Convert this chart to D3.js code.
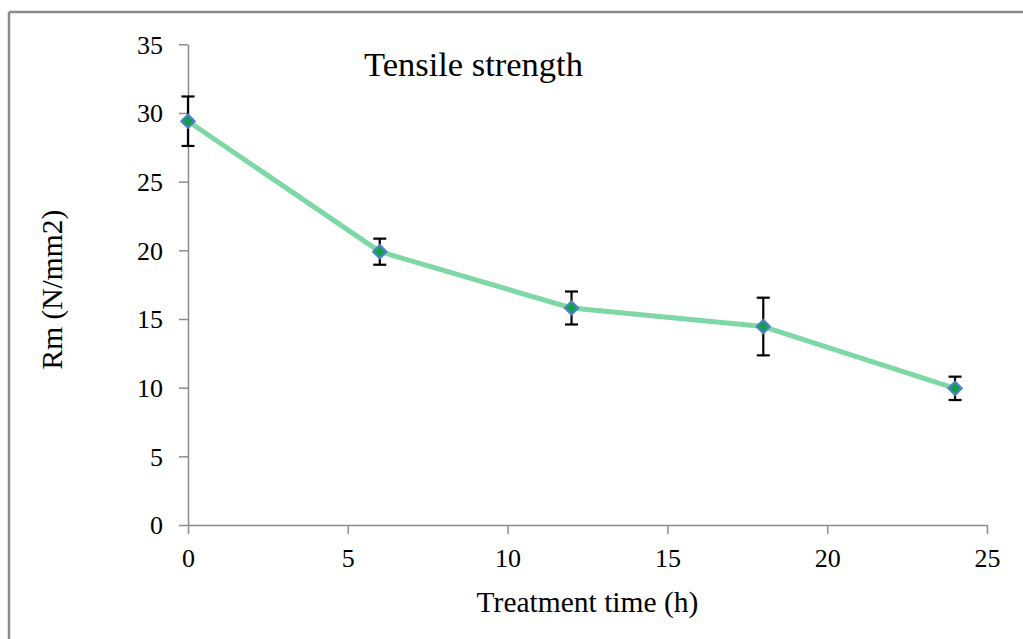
<!DOCTYPE html>
<html>
<head>
<meta charset="utf-8">
<script src="https://cdn.jsdelivr.net/npm/d3@7"></script>
<style>
  html, body { margin: 0; padding: 0; background: #fff; }
  svg { display: block; }
  text { font-family: "Liberation Serif", "Times New Roman", serif; fill: #000; }
</style>
</head>
<body>
<svg id="chart" width="1023" height="639"></svg>
<script>
// Treatment time (h) and tensile strength Rm (N/mm2) with standard deviation
const times = [0, 6, 12, 18, 24];
const strength = [29.4, 19.9, 15.8, 14.45, 9.95];
const deviation = [1.8, 0.95, 1.2, 2.1, 0.85];
const xTicks = [0, 5, 10, 15, 20, 25];
const yTicks = [0, 5, 10, 15, 20, 25, 30, 35];

const svg = d3.select("#chart");

// outer frame: top and left edges
const frame = svg.append("g").attr("stroke", "#8c8c8c").attr("stroke-width", 2.5);
frame.append("line").attr("x1", 9).attr("x2", 1023).attr("y1", 12).attr("y2", 12);
frame.append("line").attr("x1", 9).attr("x2", 9).attr("y1", 12).attr("y2", 639);

const plot = { left: 188, right: 987, top: 44.3, bottom: 525 };

const x = d3.scaleLinear().domain([0, 25]).range([plot.left, plot.right]);
const y = d3.scaleLinear().domain([0, 35]).range([plot.bottom, plot.top]);

// axes
const xAxis = svg.append("g")
  .attr("transform", `translate(0,${plot.bottom})`)
  .call(d3.axisBottom(x).tickValues(xTicks).tickSize(9).tickSizeOuter(0).tickPadding(15));
const yAxis = svg.append("g")
  .attr("transform", `translate(${plot.left},0)`)
  .call(d3.axisLeft(y).tickValues(yTicks).tickSize(9).tickSizeOuter(0).tickPadding(16));

[xAxis, yAxis].forEach(g => {
  g.select(".domain").attr("stroke", "#8c8c8c").attr("stroke-width", 1.5);
  g.selectAll(".tick line").attr("stroke", "#8c8c8c").attr("stroke-width", 1.5);
  g.selectAll(".tick text")
    .attr("font-family", "Liberation Serif, Times New Roman, serif")
    .attr("font-size", 26)
    .attr("fill", "#000");
});
yAxis.selectAll(".tick text").attr("dy", "0.34em");

// connecting line
const line = d3.line().x((d, i) => x(times[i])).y(d => y(d));
svg.append("path")
  .datum(strength)
  .attr("d", line)
  .attr("fill", "none")
  .attr("stroke", "#7dd8a6")
  .attr("stroke-width", 5)
  .attr("stroke-linejoin", "round");

// error bars
const capHalf = 6.5;
const err = svg.append("g").attr("stroke", "#000").attr("stroke-width", 2.2);
strength.forEach((v, i) => {
  const cx = x(times[i]);
  const hi = y(v + deviation[i]);
  const lo = y(v - deviation[i]);
  err.append("line").attr("x1", cx).attr("x2", cx).attr("y1", hi).attr("y2", lo);
  err.append("line").attr("x1", cx - capHalf).attr("x2", cx + capHalf).attr("y1", hi).attr("y2", hi);
  err.append("line").attr("x1", cx - capHalf).attr("x2", cx + capHalf).attr("y1", lo).attr("y2", lo);
});

// diamond markers
const diamond = d3.symbol().type(d3.symbolDiamond2).size(110);
svg.append("g").selectAll("path")
  .data(strength)
  .join("path")
  .attr("d", diamond)
  .attr("transform", (d, i) => `translate(${x(times[i])},${y(d)})`)
  .attr("fill", "#10a04c")
  .attr("stroke", "#4f7fc4")
  .attr("stroke-width", 2.2);

// title
svg.append("text")
  .attr("x", 364).attr("y", 76)
  .attr("font-size", 34.5)
  .text("Tensile strength");

// axis titles
svg.append("text")
  .attr("x", (plot.left + plot.right) / 2).attr("y", 612)
  .attr("text-anchor", "middle")
  .attr("font-size", 29.5)
  .text("Treatment time (h)");

svg.append("text")
  .attr("transform", `translate(62,${(plot.top + plot.bottom) / 2 + 5}) rotate(-90)`)
  .attr("text-anchor", "middle")
  .attr("font-size", 29.5)
  .text("Rm (N/mm2)");
</script>
</body>
</html>
